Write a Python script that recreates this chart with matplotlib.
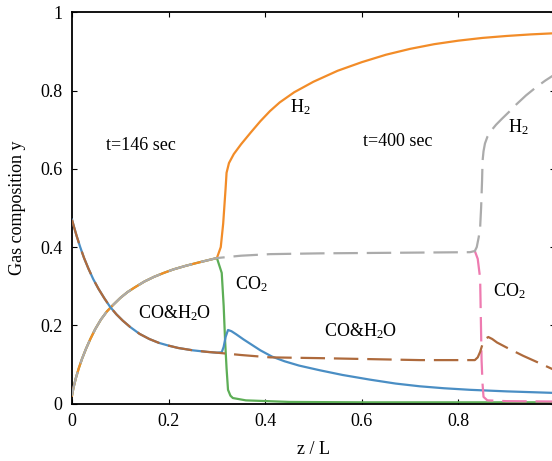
import matplotlib
matplotlib.use("Agg")
import matplotlib.pyplot as plt

# ---- data ----
# shared rising branch (H2 = CO2) for z in [0, 0.3]
z_rise = [0, 0.003, 0.008, 0.014, 0.021, 0.029, 0.038, 0.048, 0.06, 0.072, 0.085, 0.1, 0.115,
          0.13, 0.15, 0.17, 0.19, 0.21, 0.235, 0.26, 0.28, 0.30]
y_rise = [0.02, 0.04, 0.065, 0.09, 0.115, 0.14, 0.165, 0.19, 0.215, 0.235, 0.252, 0.27, 0.285,
          0.297, 0.312, 0.324, 0.334, 0.343, 0.352, 0.36, 0.366, 0.372]
# shared falling branch (CO & H2O) for z in [0, 0.3]
z_fall = [0, 0.005, 0.01, 0.017, 0.025, 0.034, 0.044, 0.055, 0.067, 0.079, 0.092, 0.105, 0.12,
          0.14, 0.16, 0.18, 0.2, 0.22, 0.25, 0.28, 0.30]
y_fall = [0.47, 0.448, 0.427, 0.40, 0.372, 0.345, 0.318, 0.293, 0.269, 0.247, 0.228, 0.212, 0.196,
          0.178, 0.165, 0.155, 0.148, 0.142, 0.136, 0.132, 0.13]

# t = 146 sec (solid)
z_h2_146 = [0.308, 0.313, 0.318, 0.32, 0.325, 0.335, 0.35, 0.37, 0.39, 0.41, 0.43, 0.46, 0.5,
            0.55, 0.6, 0.65, 0.7, 0.75, 0.8, 0.85, 0.9, 0.95, 1.0]
y_h2_146 = [0.40, 0.46, 0.55, 0.59, 0.615, 0.638, 0.663, 0.693, 0.722, 0.748, 0.77, 0.796, 0.823,
            0.851, 0.873, 0.892, 0.907, 0.919, 0.928, 0.935, 0.94, 0.944, 0.947]
z_co2_146 = [0.31, 0.314, 0.317, 0.32, 0.323, 0.328, 0.333, 0.36, 0.45, 0.6, 1.0]
y_co2_146 = [0.334, 0.25, 0.16, 0.09, 0.035, 0.02, 0.014, 0.008, 0.004, 0.003, 0.003]
z_co_146 = [0.31, 0.314, 0.318, 0.323, 0.33, 0.34, 0.355, 0.37, 0.39, 0.414, 0.44, 0.47, 0.513,
            0.56, 0.617, 0.67, 0.72, 0.77, 0.824, 0.9, 1.0]
y_co_146 = [0.131, 0.145, 0.17, 0.188, 0.185, 0.177, 0.164, 0.152, 0.136, 0.12, 0.108, 0.097, 0.085,
            0.073, 0.061, 0.051, 0.044, 0.039, 0.035, 0.031, 0.027]

# t = 400 sec (dashed)
z_h2_400 = [0.35, 0.41, 0.513, 0.617, 0.72, 0.824, 0.834, 0.838, 0.842, 0.845, 0.847, 0.849, 0.85,
            0.852, 0.855, 0.86, 0.868, 0.878, 0.89, 0.905, 0.92, 0.94, 0.96, 0.98, 1.0]
y_h2_400 = [0.378, 0.382, 0.384, 0.385, 0.386, 0.387, 0.39, 0.40, 0.425, 0.45, 0.5, 0.57, 0.62,
            0.645, 0.665, 0.682, 0.698, 0.713, 0.728, 0.746, 0.765, 0.788, 0.808, 0.826, 0.842]
z_co2_400 = [0.834, 0.84, 0.845, 0.848, 0.85, 0.852, 0.86, 0.9, 1.0]
y_co2_400 = [0.39, 0.37, 0.32, 0.11, 0.05, 0.017, 0.008, 0.006, 0.005]
z_co_400 = [0.35, 0.41, 0.513, 0.72, 0.834, 0.84, 0.845, 0.85, 0.855, 0.862, 0.87, 0.88, 0.9,
            0.934, 0.97, 1.0]
y_co_400 = [0.124, 0.118, 0.116, 0.111, 0.111, 0.118, 0.132, 0.152, 0.165, 0.17, 0.165, 0.156, 0.143,
            0.122, 0.102, 0.085]

xticks = [0, 0.2, 0.4, 0.6, 0.8, 1]
xtick_labels = ["0", "0.2", "0.4", "0.6", "0.8", ""]
yticks = [0, 0.2, 0.4, 0.6, 0.8, 1]
ytick_labels = ["0", "0.2", "0.4", "0.6", "0.8", "1"]

# ---- style ----
plt.rcParams['font.family'] = ['Liberation Serif', 'DejaVu Serif']
plt.rcParams['mathtext.fontset'] = 'custom'
plt.rcParams['mathtext.rm'] = 'Liberation Serif'
plt.rcParams['mathtext.it'] = 'Liberation Serif:italic'
FS = 13
c_orange = '#F28C28'
c_green = '#5DAE56'
c_blue = '#4A8EC4'
c_brown = '#AE6A3C'
c_gray = '#ABABAB'
c_pink = '#EE7BB0'
lw = 1.6
dash = (11, 4)

fig = plt.figure(figsize=(5.52, 4.61), dpi=100)
ax = fig.add_axes([72 / 552, 57.5 / 461, 483 / 552, 391 / 461])

# solid t=146
ax.plot(z_rise + z_co2_146, y_rise + y_co2_146, color=c_green, lw=lw, zorder=2)
ax.plot(z_rise + z_h2_146, y_rise + y_h2_146, color=c_orange, lw=lw, zorder=3)
ax.plot(z_fall + z_co_146, y_fall + y_co_146, color=c_blue, lw=lw, zorder=3)

# dashed t=400
ax.plot(z_co2_400, y_co2_400, color=c_pink, lw=lw, dashes=dash, zorder=4)
ax.plot(z_rise + z_h2_400, y_rise + y_h2_400, color=c_gray, lw=lw, dashes=dash, zorder=5)
ax.plot(z_fall + z_co_400, y_fall + y_co_400, color=c_brown, lw=lw, dashes=dash, zorder=5)

ax.set_xlim(0, 1)
ax.set_ylim(0, 1)
ax.set_xticks(xticks)
ax.set_xticklabels(xtick_labels)
ax.set_yticks(yticks)
ax.set_yticklabels(ytick_labels)
ax.tick_params(direction='in', length=3.5, width=0.8, top=True, right=True,
               labelsize=FS, pad=7)
for s in ax.spines.values():
    s.set_linewidth(1.3)

ax.set_xlabel('z / L', fontsize=FS, labelpad=8)
ax.set_ylabel('Gas composition y', fontsize=FS, labelpad=10)

ax.text(0.143, 0.661, 't=146 sec', fontsize=FS, ha='center', va='center')
ax.text(0.675, 0.669, 't=400 sec', fontsize=FS, ha='center', va='center')
ax.text(0.472, 0.758, r'H$_2$', fontsize=FS, ha='center', va='center')
ax.text(0.925, 0.707, r'H$_2$', fontsize=FS, ha='center', va='center')
ax.text(0.372, 0.305, r'CO$_2$', fontsize=FS, ha='center', va='center')
ax.text(0.905, 0.287, r'CO$_2$', fontsize=FS, ha='center', va='center')
ax.text(0.213, 0.232, r'CO&H$_2$O', fontsize=FS, ha='center', va='center')
ax.text(0.597, 0.186, r'CO&H$_2$O', fontsize=FS, ha='center', va='center')

fig.savefig('out.png', dpi=100)
